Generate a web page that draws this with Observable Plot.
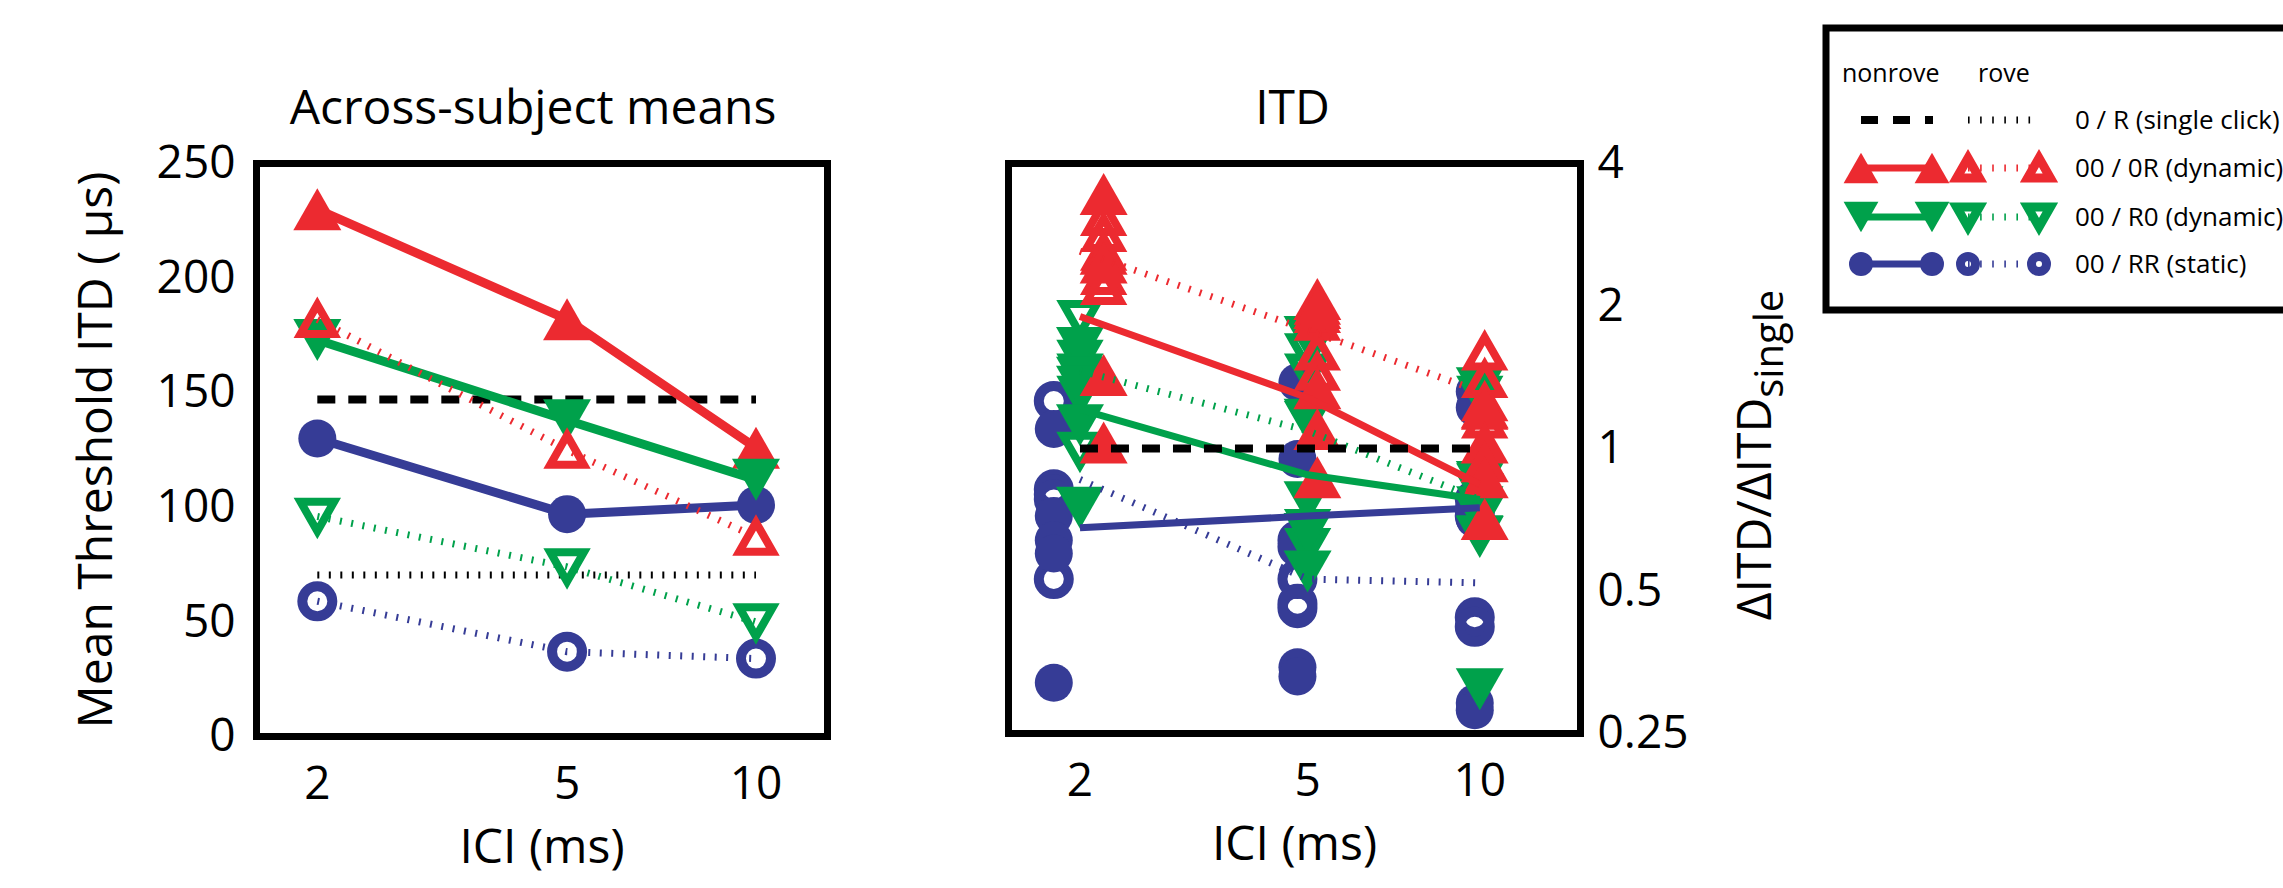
<!DOCTYPE html>
<html>
<head>
<meta charset="utf-8">
<script src="https://cdn.jsdelivr.net/npm/d3@7"></script>
<script src="https://cdn.jsdelivr.net/npm/@observablehq/plot@0.6"></script>
<style>
  html, body { margin: 0; padding: 0; background: #fff; }
  #root { position: relative; width: 2283px; height: 888px; overflow: hidden; font-family: "Open Sans", sans-serif; background: #fff; }
  #left, #right, #legend { position: absolute; top: 0; }
  #left { left: 0; }
  #right { left: 900px; }
  #legend { left: 1800px; }
  #ylab2 { position: absolute; left: 1753px; top: 455px; transform: translate(-50%, -50%) rotate(-90deg);
           white-space: nowrap; font-size: 48px; line-height: 1; color: #000; }
  #ylab2 sub { font-size: 40px; vertical-align: -0.3em; line-height: 0; }
</style>
</head>
<body>
<div id="root">
  <div id="left"></div>
  <div id="right"></div>
  <svg id="legend" width="483" height="888"></svg>
  <div id="ylab2">ΔITD/ΔITD<sub>single</sub></div>
</div>
<script>
// ---------------- data ----------------
const ici = [2, 5, 10];                       // inter-click interval (ms)
const leftYTicks = [0, 50, 100, 150, 200, 250];
const rightYTicks = [0.25, 0.5, 1, 2, 4];

// Across-subject mean thresholds (µs)
const mean_single_nonrove = 147;
const mean_single_rove = 70.5;
const mean_0R_nonrove = [230, 182, 126];
const mean_0R_rove    = [182, 125, 87];
const mean_R0_nonrove = [173, 138, 112];
const mean_R0_rove    = [96, 74, 50];
const mean_RR_nonrove = [130, 97, 101];
const mean_RR_rove    = [59, 37, 34];

// Normalized means (ΔITD / ΔITD single)
const norm_single = 1;
const norm_0R_nonrove = [1.90, 1.28, 0.84];
const norm_0R_rove    = [2.61, 1.78, 1.32];
const norm_R0_nonrove = [1.21, 0.88, 0.78];
const norm_R0_rove    = [1.46, 1.09, 0.78];
const norm_RR_nonrove = [0.68, 0.72, 0.75];
const norm_RR_rove    = [0.86, 0.53, 0.52];

// Individual subjects, normalized (one list per ICI)
const subj_0R_nonrove = [[3.45, 2.58, 2.47, 1.43, 1.03], [2.07, 1.98, 1.34, 1.10, 0.87], [1.22, 1.03, 0.94, 0.87, 0.71]];
const subj_0R_rove    = [[3.08, 2.85, 2.60, 2.31, 2.20], [2.00, 1.92, 1.85, 1.60, 1.45], [1.60, 1.40, 1.25, 1.20, 1.15]];
const subj_R0_nonrove = [[1.63, 1.41, 1.35, 1.12, 0.75], [1.72, 1.15, 0.77, 0.66, 0.55], [1.34, 0.85, 0.80, 0.65, 0.31]];
const subj_R0_rove    = [[1.88, 1.55, 1.45, 1.30, 0.99], [1.60, 1.45, 1.15, 0.68, 0.62], [1.30, 0.85, 0.76, 0.72, 0.66]];
const subj_RR_nonrove = [[1.10, 0.72, 0.64, 0.60, 0.32], [1.38, 0.95, 0.62, 0.345, 0.33], [1.32, 1.22, 0.71, 0.29, 0.28]];
const subj_RR_rove    = [[1.26, 0.82, 0.80, 0.78, 0.53], [0.64, 0.62, 0.53, 0.47, 0.46], [0.78, 0.74, 0.72, 0.44, 0.42]];

// horizontal ICI offsets (ms) used in the individual-subject panel
const iciOffset_RR = -0.2, iciOffset_R0 = 0, iciOffset_0R = 0.2;

// legend texts
const legendHeads = ["nonrove", "rove"];
const legendRows = ["0 / R  (single click)", "00 / 0R  (dynamic)", "00 / R0 (dynamic)", "00 / RR  (static)"];

// ---------------- styles ----------------
const FONT = '"Open Sans", sans-serif';
const RED = "#EC2A30", GREEN = "#00A14B", BLUE = "#363C96";
function triSymbol(dir) {
  return { draw(ctx, size) {
    const r = Math.sqrt(size / Math.PI);
    const w = 1.2 * r, h = 1.05 * r;
    ctx.moveTo(0, -dir * h); ctx.lineTo(w, dir * h); ctx.lineTo(-w, dir * h); ctx.closePath();
  }};
}
const TRI_UP = triSymbol(1), TRI_DOWN = triSymbol(-1);
const cond = {
  "0R": {color: RED, symbol: TRI_UP, tri: true},
  "R0": {color: GREEN, symbol: TRI_DOWN, tri: true},
  "RR": {color: BLUE, symbol: "circle", tri: false}
};
function dotStyle(c, open) {
  const s = cond[c];
  if (open) return {symbol: s.symbol, fill: "none", stroke: s.color, strokeWidth: s.tri ? 8 : 10, r: s.tri ? 14 : 15, strokeLinejoin: "miter"};
  return {symbol: s.symbol, fill: s.color, stroke: "none", r: s.tri ? 20 : 19};
}
const series = vals => ici.map((x, i) => ({x, y: vals[i]}));
const flat = (nested, off) => nested.flatMap((vals, i) => vals.map(v => ({x: ici[i] + off, y: v})));
const label = (t, o) => Plot.text([t], {text: d => d, textAnchor: "middle", lineAnchor: "middle", fontSize: 48, ...o});

// ---------------- left panel ----------------
const leftSeries = [
  ["RR", false, mean_RR_nonrove], ["0R", false, mean_0R_nonrove], ["R0", false, mean_R0_nonrove],
  ["RR", true, mean_RR_rove], ["0R", true, mean_0R_rove], ["R0", true, mean_R0_rove]
];
const leftMarks = [
  Plot.axisX({ticks: ici, tickFormat: d => String(d), tickSize: 0, tickPadding: 30, fontSize: 46, label: null}),
  Plot.axisY({ticks: leftYTicks, tickFormat: d => String(d), tickSize: 0, tickPadding: 21, fontSize: 46, label: null}),
  Plot.line(series(ici.map(() => mean_single_rove)), {x: "x", y: "y", stroke: "black", strokeWidth: 7, strokeDasharray: "2,9.5", strokeLinecap: "butt"}),
  Plot.line(series(ici.map(() => mean_single_nonrove)), {x: "x", y: "y", stroke: "black", strokeWidth: 8, strokeDasharray: "18,13", strokeLinecap: "butt"})
];
for (const [c, open, vals] of leftSeries) {
  const d = series(vals);
  leftMarks.push(Plot.line(d, {x: "x", y: "y", stroke: cond[c].color, strokeWidth: open ? 7 : 9,
    strokeDasharray: open ? "2,9.5" : null, strokeLinecap: "butt"}));
  leftMarks.push(Plot.dot(d, {x: "x", y: "y", ...dotStyle(c, open)}));
}
leftMarks.push(
  Plot.frame({stroke: "black", strokeWidth: 7}),
  label("Across-subject means", {frameAnchor: "top", dy: -55, dx: -9}),
  label("ICI (ms)", {frameAnchor: "bottom", dy: 111}),
  label("Mean Threshold ITD ( µs)", {frameAnchor: "left", dx: -160, rotate: -90})
);
const leftPlot = Plot.plot({
  width: 900, height: 888,
  marginLeft: 256, marginRight: 73, marginTop: 163, marginBottom: 152,
  style: {fontFamily: FONT, color: "black", background: "white"},
  x: {type: "log", domain: [1.6, 13], axis: null},
  y: {domain: [0, 250], axis: null},
  marks: leftMarks
});
document.getElementById("left").appendChild(leftPlot);

// ---------------- right panel ----------------
const indiv = [
  ["RR", true, subj_RR_rove, iciOffset_RR], ["RR", false, subj_RR_nonrove, iciOffset_RR],
  ["R0", true, subj_R0_rove, iciOffset_R0], ["R0", false, subj_R0_nonrove, iciOffset_R0],
  ["0R", true, subj_0R_rove, iciOffset_0R], ["0R", false, subj_0R_nonrove, iciOffset_0R]
];
const normLines = [
  ["RR", false, norm_RR_nonrove], ["RR", true, norm_RR_rove],
  ["R0", false, norm_R0_nonrove], ["R0", true, norm_R0_rove],
  ["0R", false, norm_0R_nonrove], ["0R", true, norm_0R_rove]
];
const rightMarks = [
  Plot.axisX({ticks: ici, tickFormat: d => String(d), tickSize: 0, tickPadding: 30, fontSize: 46, label: null}),
  Plot.axisY({anchor: "right", ticks: rightYTicks, tickFormat: d => String(d), tickSize: 0, tickPadding: 17, fontSize: 46, label: null})
];
for (const [c, open, nested, off] of indiv) {
  rightMarks.push(Plot.dot(flat(nested, off), {x: "x", y: "y", ...dotStyle(c, open)}));
}
for (const [c, open, vals] of normLines) {
  rightMarks.push(Plot.line(series(vals), {x: "x", y: "y", stroke: cond[c].color, strokeWidth: 7,
    strokeDasharray: open ? "2,9.5" : null, strokeLinecap: "butt"}));
}
rightMarks.push(
  Plot.line(series(ici.map(() => norm_single)), {x: "x", y: "y", stroke: "black", strokeWidth: 8, strokeDasharray: "18,13", strokeLinecap: "butt"}),
  Plot.frame({stroke: "black", strokeWidth: 7}),
  label("ITD", {frameAnchor: "top", dy: -55, dx: -2}),
  label("ICI (ms)", {frameAnchor: "bottom", dy: 111})
);
const rightPlot = Plot.plot({
  width: 900, height: 888,
  marginLeft: 108, marginRight: 220, marginTop: 163, marginBottom: 155,
  style: {fontFamily: FONT, color: "black", background: "white"},
  x: {type: "log", domain: [1.5, 15], axis: null},
  y: {type: "log", base: 2, domain: [0.25, 4], axis: null},
  marks: rightMarks
});
document.getElementById("right").appendChild(rightPlot);

// ---------------- legend ----------------
const lg = d3.select("#legend");
lg.append("rect").attr("x", 26).attr("y", 28).attr("width", 600).attr("height", 282)
  .attr("fill", "none").attr("stroke", "black").attr("stroke-width", 7);
const headX = [42, 178];
legendHeads.forEach((t, i) => lg.append("text").attr("x", headX[i]).attr("y", 73).attr("dy", "0.35em")
  .attr("font-family", FONT).attr("font-size", 25).text(t));
const rowY = [120, 168, 217, 264];
const rowCond = [null, "0R", "R0", "RR"];
rowY.forEach((y, i) => {
  const c = rowCond[i];
  const color = c ? cond[c].color : "black";
  lg.append("line").attr("x1", 61).attr("x2", 133).attr("y1", y).attr("y2", y)
    .attr("stroke", color).attr("stroke-width", c ? 7 : 8).attr("stroke-dasharray", c ? null : "17,15");
  lg.append("line").attr("x1", 168).attr("x2", c ? 240 : 232).attr("y1", y).attr("y2", y)
    .attr("stroke", color).attr("stroke-width", 7).attr("stroke-dasharray", "1.6,10.5");
  if (c) {
    const s = cond[c];
    const sym = typeof s.symbol === "string" ? d3.symbolCircle : s.symbol;
    const filledR = s.tri ? 14.5 : 12;
    [61, 132].forEach(x => lg.append("path").attr("transform", `translate(${x},${y})`)
      .attr("d", d3.symbol(sym, Math.PI * filledR * filledR)()).attr("fill", color));
    const openR = s.tri ? 9.5 : 7.5;
    [168, 239].forEach(x => lg.append("path").attr("transform", `translate(${x},${y})`)
      .attr("d", d3.symbol(sym, Math.PI * openR * openR)()).attr("fill", "none")
      .attr("stroke", color).attr("stroke-width", 9).attr("stroke-linejoin", "miter"));
  }
  lg.append("text").attr("x", 275).attr("y", y).attr("dy", "0.35em")
    .attr("font-family", FONT).attr("font-size", 26).text(legendRows[i]);
});
</script>
</body>
</html>
